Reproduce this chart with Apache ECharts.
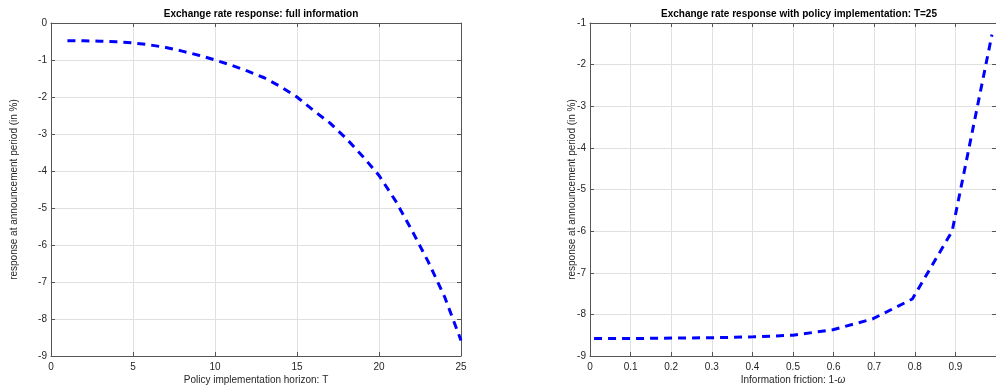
<!DOCTYPE html>
<html>
<head>
<meta charset="utf-8">
<script src="https://cdn.jsdelivr.net/npm/echarts@6/dist/echarts.min.js"></script>
<style>
  html, body { margin: 0; padding: 0; background: #fff; }
  #chart { width: 996px; height: 390px; }
</style>
</head>
<body>
<div id="chart"></div>
<script>
var horizonT = [1, 2, 3, 4, 5, 6, 7, 8, 9, 10, 11, 12, 13, 14, 15, 16, 17, 18, 19, 20, 21, 22, 23, 24, 25];
var fullInfoResp = [-0.48, -0.48, -0.49, -0.51, -0.54, -0.59, -0.66, -0.76, -0.87, -1.00,
                    -1.14, -1.30, -1.48, -1.72, -2.00, -2.36, -2.70, -3.12, -3.60, -4.12,
                    -4.80, -5.60, -6.45, -7.40, -8.58];

var friction = [0.01, 0.108, 0.206, 0.304, 0.402, 0.5, 0.598, 0.696, 0.794, 0.892, 0.99];
var frictionResp = [-8.58, -8.58, -8.57, -8.56, -8.54, -8.50, -8.37, -8.11, -7.63, -6.00, -1.28];

var titles = ['Exchange rate response: full information',
              'Exchange rate response with policy implementation: T=25'];
var yName = 'response at announcement period (in %)';

var chart = echarts.init(document.getElementById('chart'));

var frameColor = '#555555',
    textColor  = '#262626',
    gridColor  = '#e0e0e0',
    font       = 'Liberation Sans, Arial, Helvetica, sans-serif';

// top / right axes only draw the box and its inward ticks
function frameAxis(gridIndex, position, min, max, interval) {
  return {
    type: 'value', gridIndex: gridIndex, position: position,
    min: min, max: max, interval: interval,
    axisLine: {show: true, onZero: false, lineStyle: {color: frameColor, width: 1}},
    axisTick: {show: true, inside: true, length: 4, lineStyle: {color: frameColor}},
    axisLabel: {show: false},
    splitLine: {show: false}
  };
}

function mainAxis(gridIndex, position, min, max, interval, name, gap) {
  return {
    type: 'value', gridIndex: gridIndex, position: position,
    min: min, max: max, interval: interval,
    name: name, nameLocation: 'middle', nameGap: gap, nameMoveOverlap: false,
    nameRotate: position === 'left' ? 90 : 0,
    nameTextStyle: {color: textColor, fontSize: 10, fontFamily: font,
      rich: {w: {fontStyle: 'italic', fontSize: 10, fontFamily: font, color: textColor}}},
    axisLine: {show: true, onZero: false, lineStyle: {color: frameColor, width: 1}},
    axisTick: {show: true, inside: true, length: 4, lineStyle: {color: frameColor}},
    axisLabel: {color: textColor, fontSize: 10, fontFamily: font,
      margin: position === 'left' ? 4 : 6, showMaxLabel: true},
    splitLine: {show: true, lineStyle: {color: gridColor, width: 1}}
  };
}

var xBottomL = mainAxis(0, 'bottom', 0, 25, 5, 'Policy implementation horizon: T', 19);
var xBottomR = mainAxis(1, 'bottom', 0, 1, 0.1, 'Information friction: 1-{w|ω}', 19);
xBottomR.axisLabel.showMaxLabel = false;
xBottomR.axisLabel.formatter = function(v) { return String(Math.round(v * 10) / 10); };

var option = {
  backgroundColor: '#fff',
  animation: false,
  title: [
    {text: titles[0], left: 256, top: 4, textAlign: 'center',
     textStyle: {fontSize: 10, fontWeight: 'bold', color: '#000', fontFamily: font}},
    {text: titles[1], left: 794, top: 4, textAlign: 'center',
     textStyle: {fontSize: 10, fontWeight: 'bold', color: '#000', fontFamily: font}}
  ],
  grid: [
    {left: 51, top: 23, width: 410, height: 334},
    {left: 590, top: 23, width: 408, height: 334}
  ],
  xAxis: [
    xBottomL,
    frameAxis(0, 'top', 0, 25, 5),
    xBottomR,
    frameAxis(1, 'top', 0, 1, 0.1)
  ],
  yAxis: [
    mainAxis(0, 'left', -9, 0, 1, yName, 32),
    frameAxis(0, 'right', -9, 0, 1),
    mainAxis(1, 'left', -9, -1, 1, yName, 13),
    frameAxis(1, 'right', -9, -1, 1)
  ],
  series: [
    {
      type: 'line', xAxisIndex: 0, yAxisIndex: 0,
      data: horizonT.map(function(t, k) { return [t, fullInfoResp[k]]; }),
      showSymbol: false, smooth: false,
      lineStyle: {color: '#0000ff', width: 3, type: [8, 6], cap: 'butt'}
    },
    {
      type: 'line', xAxisIndex: 2, yAxisIndex: 2,
      data: friction.map(function(f, k) { return [f, frictionResp[k]]; }),
      showSymbol: false, smooth: false,
      lineStyle: {color: '#0000ff', width: 3, type: [8, 6], cap: 'butt'}
    }
  ]
};

chart.setOption(option);
</script>
</body>
</html>
